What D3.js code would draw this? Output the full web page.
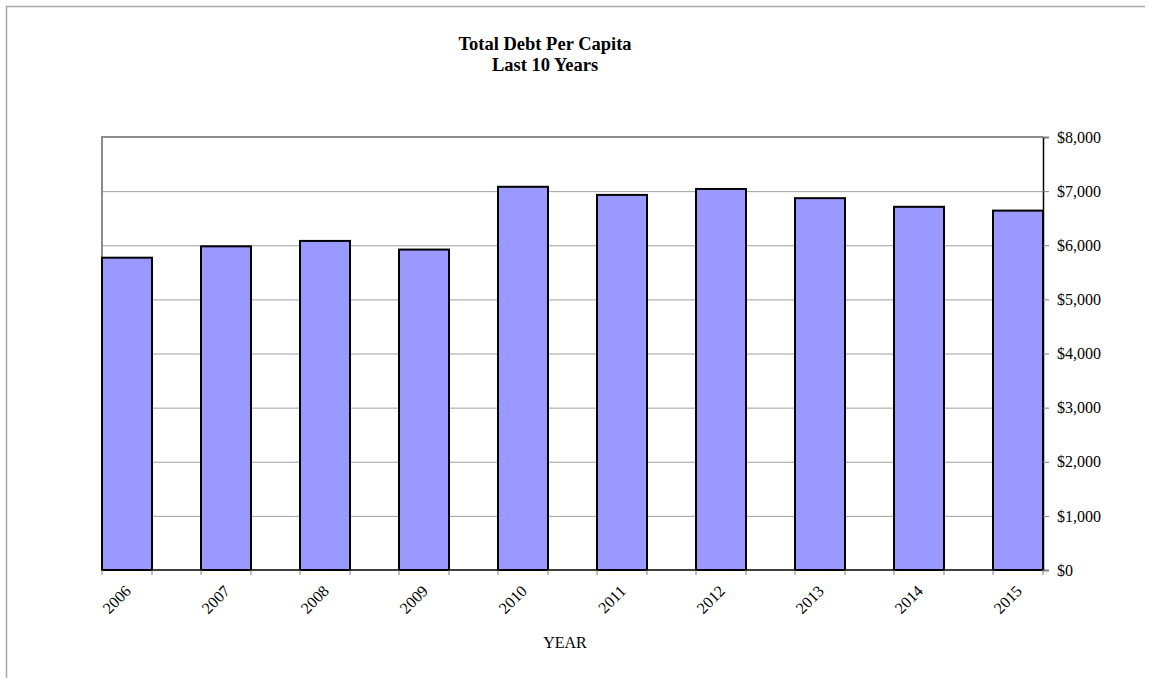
<!DOCTYPE html>
<html>
<head>
<meta charset="utf-8">
<script src="https://cdn.jsdelivr.net/npm/d3@7"></script>
<style>
  html, body { margin: 0; padding: 0; background: #fff; }
  svg { display: block; }
  text { font-family: "Liberation Serif", "Times New Roman", serif; fill: #000; }
</style>
</head>
<body>
<script>
// Total debt per capita, fiscal years 2006-2015
const years = ["2006", "2007", "2008", "2009", "2010", "2011", "2012", "2013", "2014", "2015"];
const debtPerCapita = [5770, 5980, 6080, 5920, 7080, 6930, 7040, 6870, 6710, 6640];
const yTicks = [0, 1000, 2000, 3000, 4000, 5000, 6000, 7000, 8000];
const titleLines = ["Total Debt Per Capita", "Last 10 Years"];
const xAxisTitle = "YEAR";

const W = 1154, H = 678;
const plot = { left: 102, top: 137, right: 1043, bottom: 570 };

const svg = d3.select("body").append("svg").attr("width", W).attr("height", H);

// outer frame (top and left edges)
svg.append("path")
  .attr("d", `M6.5,${H} V6.5 H1145`)
  .attr("fill", "none").attr("stroke", "#a6a6a6").attr("stroke-width", 1.5);

// title
const title = svg.append("text")
  .attr("text-anchor", "middle")
  .style("font-weight", "bold").style("font-size", "18.5px");
titleLines.forEach((t, i) => {
  title.append("tspan").attr("x", 545).attr("y", 50 + i * 20.5).text(t);
});

const x = d3.scaleBand()
  .domain(years)
  .range([plot.left, plot.right])
  .paddingInner(0.495)
  .paddingOuter(0);

const y = d3.scaleLinear()
  .domain([0, 8000])
  .range([plot.bottom, plot.top]);

// gridlines
svg.append("g").selectAll("line")
  .data(yTicks.filter(d => d > 0 && d < 8000))
  .join("line")
  .attr("x1", plot.left).attr("x2", plot.right)
  .attr("y1", d => y(d) + 0.5).attr("y2", d => y(d) + 0.5)
  .attr("stroke", "#a0a0a0").attr("stroke-width", 1);

// plot area frame: left and top in grey
svg.append("path")
  .attr("d", `M${plot.left},${plot.bottom} V${plot.top} H${plot.right}`)
  .attr("fill", "none").attr("stroke", "#8c8c8c").attr("stroke-width", 2);

// bars
svg.append("g").selectAll("rect")
  .data(years.map((yr, i) => ({ yr, v: debtPerCapita[i] })))
  .join("rect")
  .attr("x", d => x(d.yr))
  .attr("y", d => y(d.v))
  .attr("width", x.bandwidth())
  .attr("height", d => y(0) - y(d.v))
  .attr("fill", "#9999ff")
  .attr("stroke", "#000").attr("stroke-width", 2);

// right value axis
const yAxis = d3.axisRight(y)
  .tickValues(yTicks)
  .tickSize(6)
  .tickPadding(8)
  .tickFormat(d => "$" + d3.format(",")(d));
const ya = svg.append("g").attr("transform", `translate(${plot.right},0)`).call(yAxis);
ya.select(".domain").attr("stroke", "#000").attr("stroke-width", 1.5);
ya.selectAll(".tick line").attr("stroke", "#808080");
ya.selectAll(".tick text")
  .style("font-family", '"Liberation Serif", "Times New Roman", serif')
  .style("font-size", "16px").attr("fill", "#000");

// category axis: baseline, tick marks at bar edges, rotated labels
svg.append("line")
  .attr("x1", plot.left).attr("x2", plot.right)
  .attr("y1", plot.bottom).attr("y2", plot.bottom)
  .attr("stroke", "#000").attr("stroke-width", 1.5);

const edges = [];
years.forEach(yr => { edges.push(x(yr)); edges.push(x(yr) + x.bandwidth()); });
svg.append("g").selectAll("line")
  .data(edges)
  .join("line")
  .attr("x1", d => d).attr("x2", d => d)
  .attr("y1", plot.bottom).attr("y2", plot.bottom + 5)
  .attr("stroke", "#808080");

svg.append("g").selectAll("text")
  .data(years)
  .join("text")
  .attr("text-anchor", "end")
  .style("font-size", "16px")
  .attr("transform", d => `translate(${x(d) + x.bandwidth() / 2 + 5},${plot.bottom + 22}) rotate(-45)`)
  .text(d => d);

// axis title
svg.append("text")
  .attr("x", 565).attr("y", 648)
  .attr("text-anchor", "middle")
  .style("font-size", "16px")
  .text(xAxisTitle);
</script>
</body>
</html>
